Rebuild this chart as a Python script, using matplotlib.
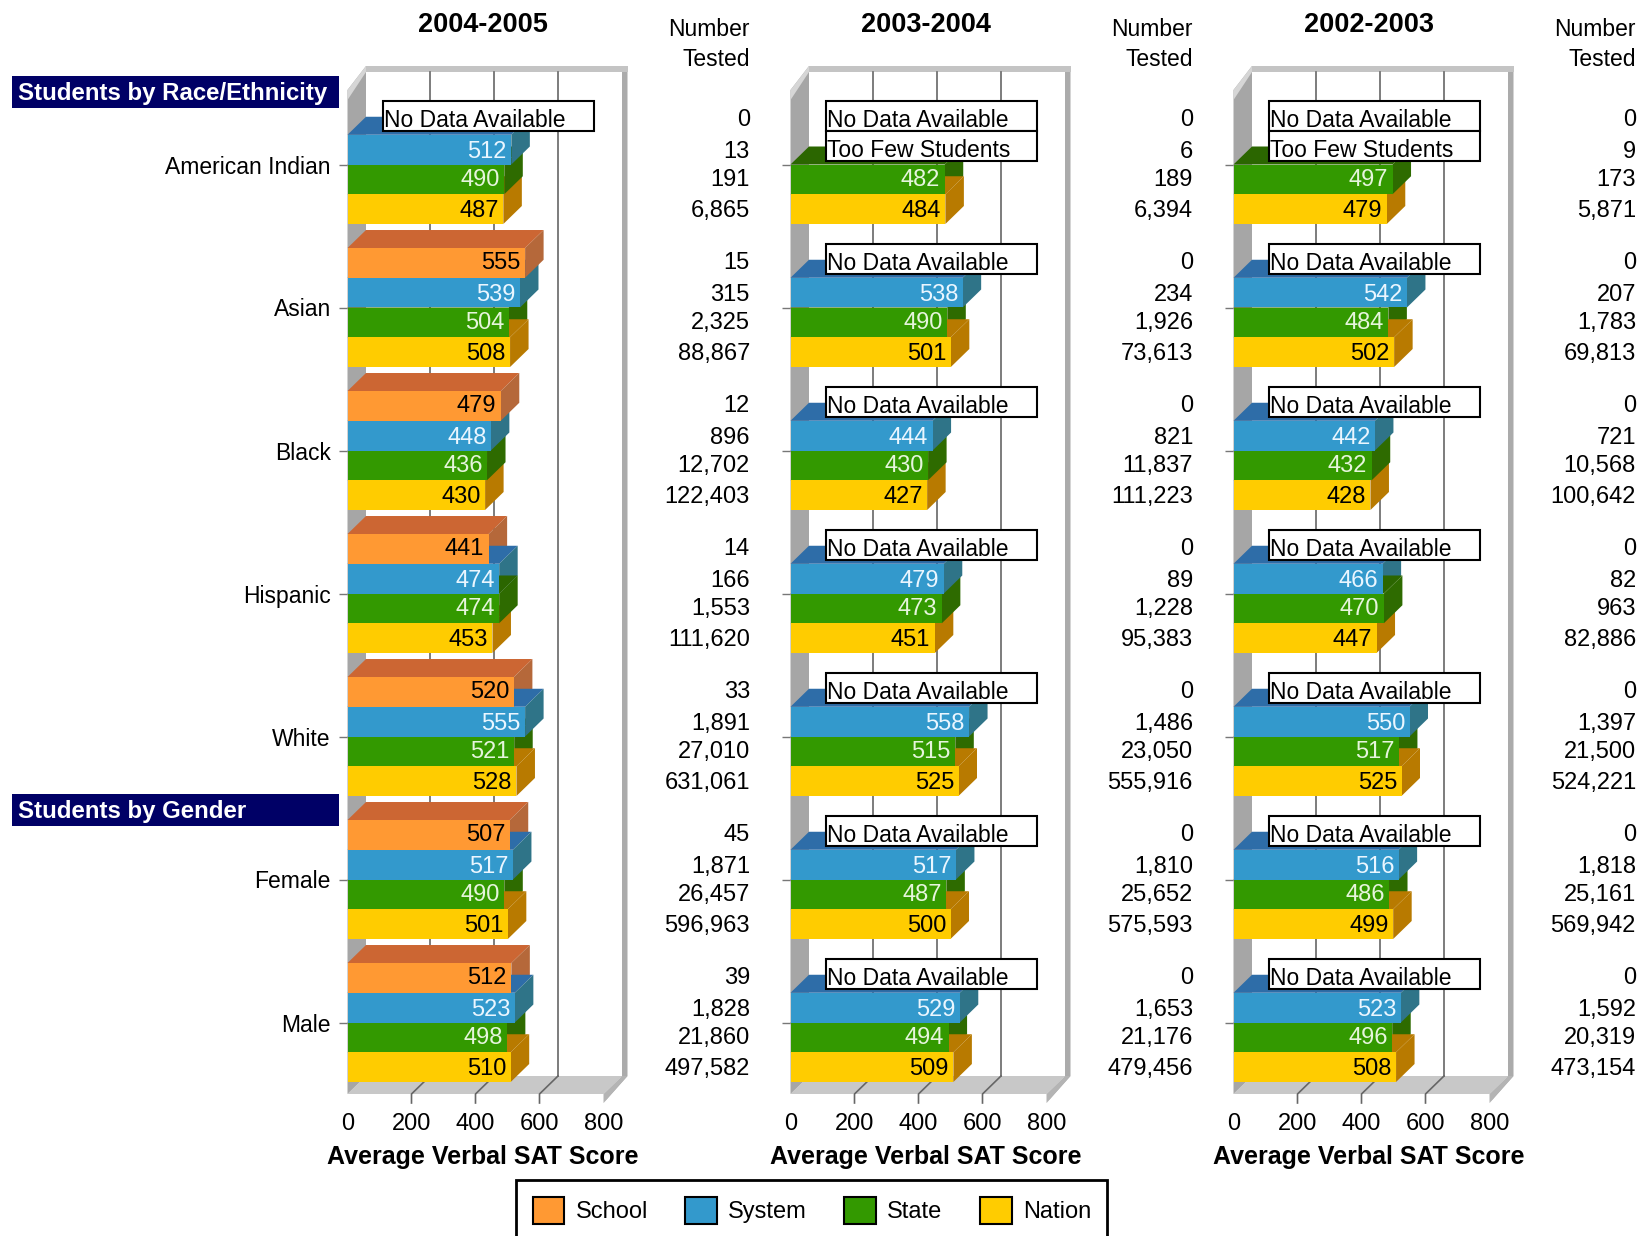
import matplotlib
matplotlib.use('Agg')
import matplotlib.pyplot as plt
from matplotlib.patches import Polygon, Rectangle

plt.rcParams['font.family'] = ['Liberation Sans', 'DejaVu Sans']

groups = ['American Indian', 'Asian', 'Black', 'Hispanic', 'White', 'Female', 'Male']
series = ['School', 'System', 'State', 'Nation']
years = ['2004-2005', '2003-2004', '2002-2003']
ticks = [0, 200, 400, 600, 800]
NO_DATA = 'No Data Available'
TOO_FEW = 'Too Few Students'

school_05 = [NO_DATA, 555, 479, 441, 520, 507, 512]
system_05 = [512, 539, 448, 474, 555, 517, 523]
state_05 = [490, 504, 436, 474, 521, 490, 498]
nation_05 = [487, 508, 430, 453, 528, 501, 510]
tested_school_05 = [0, 15, 12, 14, 33, 45, 39]
tested_system_05 = [13, 315, 896, 166, 1891, 1871, 1828]
tested_state_05 = [191, 2325, 12702, 1553, 27010, 26457, 21860]
tested_nation_05 = [6865, 88867, 122403, 111620, 631061, 596963, 497582]

school_04 = [NO_DATA] * 7
system_04 = [TOO_FEW, 538, 444, 479, 558, 517, 529]
state_04 = [482, 490, 430, 473, 515, 487, 494]
nation_04 = [484, 501, 427, 451, 525, 500, 509]
tested_school_04 = [0, 0, 0, 0, 0, 0, 0]
tested_system_04 = [6, 234, 821, 89, 1486, 1810, 1653]
tested_state_04 = [189, 1926, 11837, 1228, 23050, 25652, 21176]
tested_nation_04 = [6394, 73613, 111223, 95383, 555916, 575593, 479456]

school_03 = [NO_DATA] * 7
system_03 = [TOO_FEW, 542, 442, 466, 550, 516, 523]
state_03 = [497, 484, 432, 470, 517, 486, 496]
nation_03 = [479, 502, 428, 447, 525, 499, 508]
tested_school_03 = [0, 0, 0, 0, 0, 0, 0]
tested_system_03 = [9, 207, 721, 82, 1397, 1818, 1592]
tested_state_03 = [173, 1783, 10568, 963, 21500, 25161, 20319]
tested_nation_03 = [5871, 69813, 100642, 82886, 524221, 569942, 473154]

panels = [
    ([school_05, system_05, state_05, nation_05],
     [tested_school_05, tested_system_05, tested_state_05, tested_nation_05]),
    ([school_04, system_04, state_04, nation_04],
     [tested_school_04, tested_system_04, tested_state_04, tested_nation_04]),
    ([school_03, system_03, state_03, nation_03],
     [tested_school_03, tested_system_03, tested_state_03, tested_nation_03]),
]

front = ['#FF9933', '#3399CC', '#339900', '#FFCC00']
top = ['#CC6633', '#2E6DA8', '#2B6600', '#B87A00']
side = ['#B5683A', '#2F7488', '#2E6B00', '#B87A00']
text_col = ['black', '#EAF6FF', '#E6F5DC', 'black']

W, H = 1645, 1236
X0, XW = 347.5, 256
Y0, YH = 93, 1001
STEP = 443
GROUP_PX = 143
PX_X = 800 / XW
PX_Y = 1 / GROUP_PX
DX = 18.5 * PX_X
DY = 18 * PX_Y
BAR = 0.208
OFF = [-1.5, -0.5, 0.5, 1.5]
FS = 17
NUDGE = [0, 2 * PX_Y, 1 * PX_Y, 1.5 * PX_Y]

fig = plt.figure(figsize=(W / 100, H / 100), dpi=100, facecolor='white')


def poly(ax, pts, color, z):
    ax.add_patch(Polygon(pts, closed=True, fc=color, ec='none', zorder=z, clip_on=False))


def draw_walls(ax):
    low = 6.5
    up = -0.5
    back_top = up - 27 * PX_Y
    front_top = up - 3 * PX_Y
    right = 800 + DX
    edge = right + 5.5 * PX_X
    poly(ax, [(0, low), (800, low), (right, low - DY), (DX, low - DY)], '#C8C8C8', 1)
    poly(ax, [(800, low + 9 * PX_Y), (right, low - DY), (right, back_top), (edge, back_top),
              (edge, low - DY), (800, low + 9 * PX_Y)], '#ABABAB', 2)
    poly(ax, [(800, low), (right, low - DY), (edge, low - DY), (800, low + 9 * PX_Y)], '#B4B4B4', 2)
    poly(ax, [(DX, back_top), (edge, back_top), (edge, back_top + 6 * PX_Y), (DX, back_top + 6 * PX_Y)],
         '#C4C4C4', 2)
    poly(ax, [(0, low), (DX, low - DY), (DX, back_top), (0, front_top)], '#A6A6A6', 2)
    poly(ax, [(0, front_top), (DX, back_top), (DX, back_top + 6 * PX_Y), (0, front_top + 10 * PX_Y)],
         '#D6D6D6', 3)
    for t in ticks[1:4]:
        ax.plot([t + DX, t + DX], [back_top + 6 * PX_Y, low - DY], color='#666666', lw=1.2, zorder=2, clip_on=False)
        ax.plot([t + DX, t, t], [low - DY, low, low + 9 * PX_Y], color='#666666', lw=1.2, zorder=2, clip_on=False)


def draw_group(ax, i, rows, tested):
    # the longer bar's side hides the shorter one's, so paint by value
    solid = [s for s in range(4) if not isinstance(rows[s][i], str)]
    solid.sort(key=lambda s: rows[s][i])
    for rank, s in enumerate(solid):
        v = rows[s][i]
        y = i + OFF[s] * BAR
        a = y - BAR / 2
        b = y + BAR / 2
        poly(ax, [(0, a), (v, a), (v + DX, a - DY), (DX, a - DY)], top[s], 4 + rank * 0.1)
        poly(ax, [(v, a), (v + DX, a - DY), (v + DX, b - DY), (v, b)], side[s], 4 + rank * 0.1)
    for s, vals in enumerate(rows):
        v = vals[i]
        y = i + OFF[s] * BAR
        if isinstance(v, str):
            ax.add_patch(Rectangle((111, y - BAR / 2 - 0.025), 659, BAR, fc='white', ec='black',
                                   lw=1.5, zorder=8, clip_on=False))
            ax.text(113, y - 0.018 + 3 * PX_Y, v, fontsize=16.5, va='center', ha='left', zorder=9)
        else:
            ax.barh(y, v, height=BAR, color=front[s], zorder=5)
            ax.text(v - 14, y + NUDGE[s], str(v), fontsize=FS, color=text_col[s], ha='right', va='center', zorder=6)
        ax.text(1.572, y + NUDGE[s], f'{tested[s][i]:,}', fontsize=FS, ha='right', va='center',
                transform=ax.get_yaxis_transform(), clip_on=False)


for p, (rows, tested) in enumerate(panels):
    left = X0 + p * STEP
    ax = fig.add_axes([left / W, 1 - (Y0 + YH) / H, XW / W, YH / H])
    ax.patch.set_alpha(0)
    ax.set_xlim(0, 800)
    ax.set_ylim(6.5, -0.5)
    for sp in ax.spines.values():
        sp.set_visible(False)
    draw_walls(ax)
    for i in range(len(groups)):
        draw_group(ax, i, rows, tested)
    ax.set_xticks(ticks)
    ax.tick_params(axis='x', length=0, pad=13.5, labelsize=FS)
    ax.set_yticks(range(len(groups)))
    ax.tick_params(axis='y', length=6.5, width=1, color='#777777', pad=5.5, labelsize=16.5)
    if p == 0:
        ax.set_yticklabels(groups)
    else:
        ax.set_yticklabels([])
    ax.set_xlabel('Average Verbal SAT Score', fontsize=18, fontweight='bold')
    ax.xaxis.set_label_coords(0.53, -0.0505)
    ax.text(0.53, 1.0 + 68 / YH, years[p], fontsize=19.5, fontweight='bold', ha='center', va='center',
            transform=ax.transAxes)
    ax.text(1.572, 1.0 + 64 / YH, 'Number', fontsize=16.5, ha='right', va='center', transform=ax.transAxes)
    ax.text(1.572, 1.0 + 34 / YH, 'Tested', fontsize=16.5, ha='right', va='center', transform=ax.transAxes)

# section headers sit on the figure, not on a chart
for label, ytop in [('Students by Race/Ethnicity', 76), ('Students by Gender', 794)]:
    fig.patches.append(Rectangle((11.5 / W, 1 - (ytop + 32) / H), 327 / W, 32 / H, fc='#000066', ec='none',
                                 transform=fig.transFigure, zorder=10))
    fig.text(18.5 / W, 1 - (ytop + 17.5) / H, label, color='white', fontsize=17.3, fontweight='bold',
             va='center', ha='left', zorder=11)

handles = [Rectangle((0, 0), 1, 1, fc=c, ec='black', lw=1.5) for c in front]
leg = fig.legend(handles, series, ncol=4, loc='upper left', bbox_to_anchor=(516 / W, 1 - 1180 / H),
                 fontsize=FS, fancybox=False, edgecolor='black', framealpha=1, borderaxespad=0,
                 borderpad=0.7, handlelength=1.35, handleheight=1.4, handletextpad=0.47,
                 columnspacing=1.58)
leg.get_frame().set_linewidth(2)

fig.savefig('out.png', dpi=100)
